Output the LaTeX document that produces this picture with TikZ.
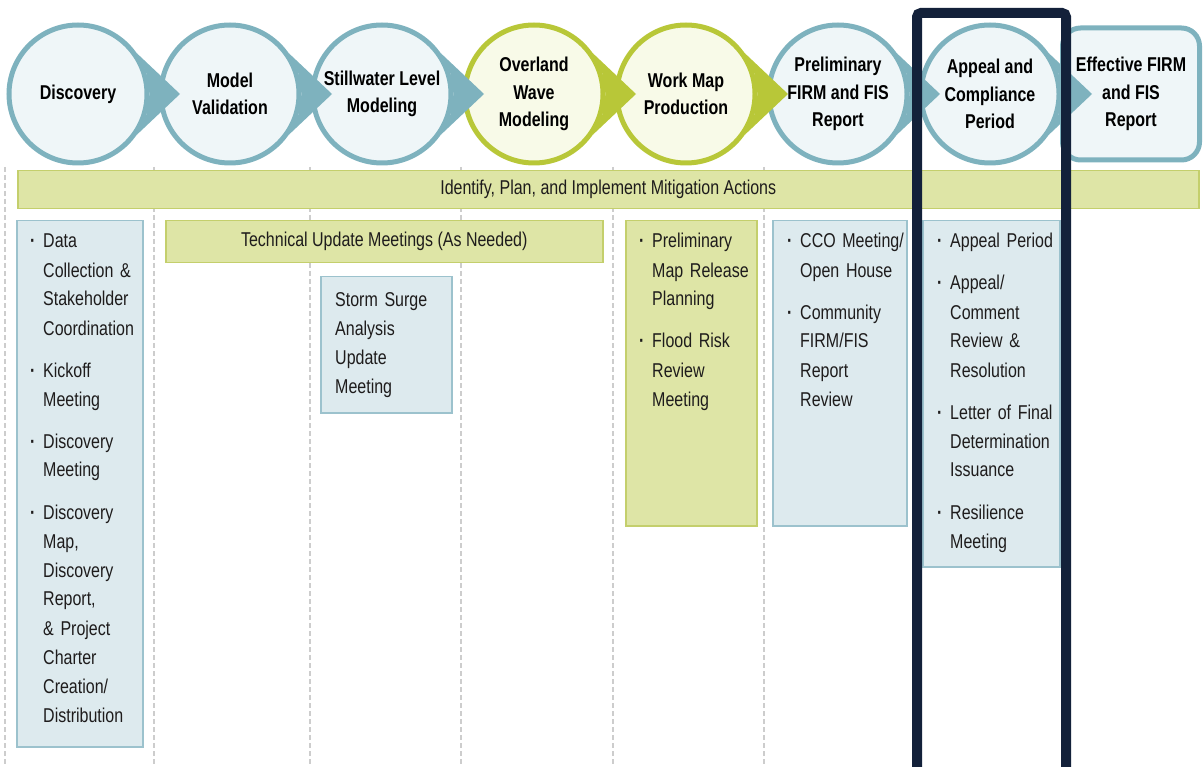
\documentclass[tikz,border=0pt]{standalone}
\usepackage{fontspec}
\setmainfont{Liberation Sans}[FakeStretch=0.8]
\usetikzlibrary{positioning}

\definecolor{stageteal}{RGB}{126,178,190}
\definecolor{tealfill}{RGB}{239,246,248}
\definecolor{stagegreen}{RGB}{184,199,56}
\definecolor{greenfill}{RGB}{248,250,232}
\definecolor{bandfill}{RGB}{222,229,166}
\definecolor{banddraw}{RGB}{196,207,108}
\definecolor{boxfill}{RGB}{221,234,238}
\definecolor{boxdraw}{RGB}{156,194,205}
\definecolor{lanegrey}{RGB}{205,205,205}
\definecolor{framenavy}{RGB}{19,33,58}
\definecolor{textgrey}{RGB}{30,28,28}

\newcommand{\stagefont}{\fontsize{20}{27.5}\selectfont\bfseries}
\newcommand{\itemfont}{\fontsize{20}{29}\selectfont}
\newcommand{\bul}{\makebox[13pt][l]{\textbf{\textperiodcentered}}}
\newcommand{\skipbul}{\hspace*{13pt}}

\tikzstyle{stage} = [circle, minimum size=138pt, inner sep=0pt, line width=5pt, align=center, font=\stagefont]
\tikzstyle{teal stage} = [stage, draw=stageteal, fill=tealfill]
\tikzstyle{green stage} = [stage, draw=stagegreen, fill=greenfill]
\tikzstyle{band} = [draw=banddraw, fill=bandfill, line width=1.5pt, rectangle, inner sep=0pt, font=\itemfont, text=textgrey]
\tikzstyle{bluebox} = [draw=boxdraw, fill=boxfill, line width=1.5pt, rectangle, inner sep=0pt]
\tikzstyle{items} = [anchor=base west, text width=140pt, align=left, inner sep=0pt, font=\itemfont, text=textgrey]
\tikzstyle{lane} = [draw=lanegrey, line width=1.2pt, dash pattern=on 5pt off 3pt]

\begin{document}
\begin{tikzpicture}[x=1pt, y=-1pt, node distance=152pt]
    \useasboundingbox (0,0) rectangle (1204,767);
    % dashed lanes
    \foreach \x in {5,154,310,461,613,764,916,1066}
        \draw[lane] (\x,167) -- (\x,767);

    % stages
    \node[teal stage] (disc) at (78,94) {Discovery};
    \node[teal stage, right of=disc] (model) {Model\\Validation};
    \node[teal stage, right of=model] (still) {Stillwater Level\\Modeling};
    \node[green stage, right of=still] (over) {Overland\\Wave\\Modeling};
    \node[green stage, right of=over] (work) {Work Map\\Production};
    \node[teal stage, right of=work] (prelim) {Preliminary\\FIRM and FIS\\Report};
    \node[teal stage, right of=prelim] (appeal) {Appeal and\\Compliance\\Period};
    \node[draw=stageteal, fill=tealfill, line width=5pt, rounded corners=18pt, minimum width=137pt, minimum height=132pt,
        align=center, font=\stagefont, right of=appeal, node distance=141pt] (eff) {Effective FIRM\\and FIS\\Report};
    \foreach \a/\c in {disc/stageteal, model/stageteal, still/stageteal, over/stagegreen,
                       work/stagegreen, prelim/stageteal, appeal/stageteal}
        \fill[\c] (\a.35) -- ([xshift=102pt]\a.center) -- (\a.-35) -- (\a.-17) -- (\a.0) -- (\a.17) -- cycle;

    % bands
    \node[band, minimum width=1181pt, minimum height=38pt, anchor=north west] (mitig) at (17,170)
        {Identify, Plan, and Implement Mitigation Actions};
    \node[band, minimum width=437pt, minimum height=42pt, anchor=north west] (techup) at (165,220)
        {Technical Update Meetings (As Needed)};

    % boxes
    \node[bluebox, minimum width=126pt, minimum height=526pt, anchor=north west] (discbox) at (16,220) {};
    \node[items] (discitems) at (30,248) {\bul Data\\ \skipbul Collection \&\\ \skipbul Stakeholder\\ \skipbul Coordination\\[13pt]
        \bul Kickoff\\ \skipbul Meeting\\[13pt]
        \bul Discovery\\ \skipbul Meeting\\[13pt]
        \bul Discovery\\ \skipbul Map,\\ \skipbul Discovery\\ \skipbul Report,\\ \skipbul \& Project\\ \skipbul Charter\\ \skipbul Creation/\\ \skipbul Distribution};

    \node[bluebox, minimum width=131pt, minimum height=136pt, anchor=north west] (stormbox) at (320,276) {};
    \node[items] (stormitems) at (335,306) {Storm Surge\\Analysis\\Update\\Meeting};

    \node[band, minimum width=131pt, minimum height=305pt, anchor=north west] (mapbox) at (625,220) {};
    \node[items] (mapitems) at (639,248) {\bul Preliminary\\ \skipbul Map Release\\ \skipbul Planning\\[13pt]
        \bul Flood Risk\\ \skipbul Review\\ \skipbul Meeting};

    \node[bluebox, minimum width=134pt, minimum height=305pt, anchor=north west] (ccobox) at (772,220) {};
    \node[items] (ccoitems) at (787,248) {\bul CCO Meeting/\\ \skipbul Open House\\[13pt]
        \bul Community\\ \skipbul FIRM/FIS\\ \skipbul Report\\ \skipbul Review};

    \node[bluebox, minimum width=137pt, minimum height=346pt, anchor=north west] (appealbox) at (922,220) {};
    \node[items] (appealitems) at (937,248) {\bul Appeal Period\\[13pt]
        \bul Appeal/\\ \skipbul Comment\\ \skipbul Review \&\\ \skipbul Resolution\\[13pt]
        \bul Letter of Final\\ \skipbul Determination\\ \skipbul Issuance\\[13pt]
        \bul Resilience\\ \skipbul Meeting};

    % highlight frame
    \draw[framenavy, line width=10pt, rounded corners=4pt] (917,767) -- (917,13) -- (1066,13) -- (1066,767);
\end{tikzpicture}
\end{document}
